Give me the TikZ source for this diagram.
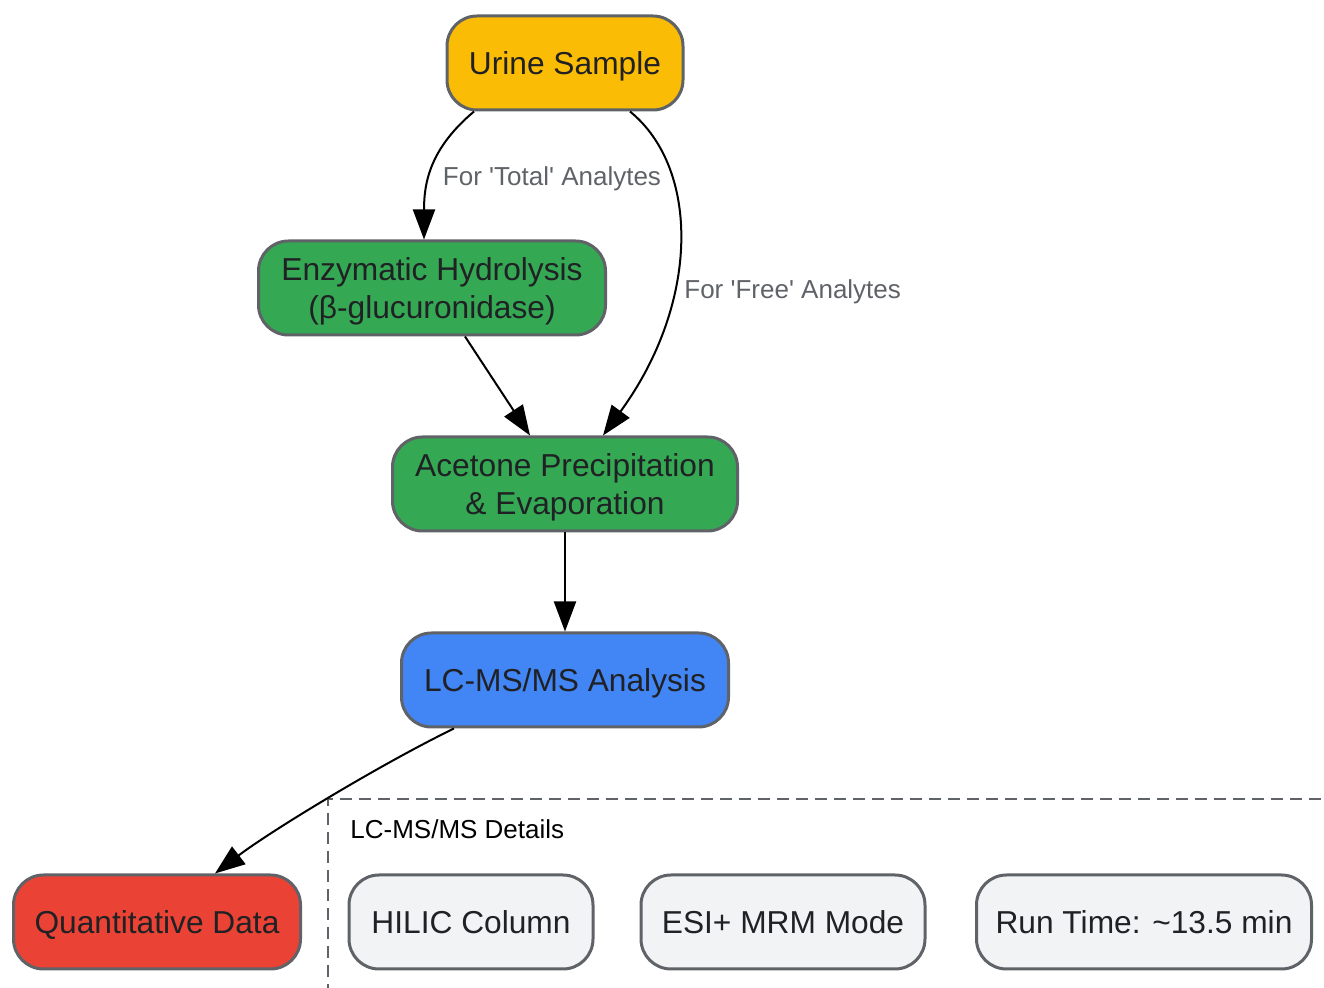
\documentclass[tikz,border=0pt]{standalone}
\usepackage{fontspec}
\setmainfont{Liberation Sans}
\usetikzlibrary{arrows.meta, positioning}

\definecolor{gyellow}{HTML}{FBBC05}
\definecolor{ggreen}{HTML}{34A853}
\definecolor{gblue}{HTML}{4285F4}
\definecolor{gred}{HTML}{EA4335}
\definecolor{glight}{HTML}{F1F3F4}
\definecolor{gborder}{HTML}{5F6368}
\definecolor{gtext}{HTML}{202124}

\newcommand{\topstrut}{\rule{0pt}{15pt}}

\begin{document}
\begin{tikzpicture}[x=0.5pt, y=-0.5pt]
\tikzset{
  stage/.style={draw=gborder, line width=1.5pt, rounded corners=15pt,
    text=gtext, align=center, inner sep=0pt, minimum height=47pt,
    font=\fontsize{15.85pt}{19.2pt}\selectfont,
    execute at begin node={\topstrut},
    execute at end node={\rule[-3.65pt]{0pt}{3.65pt}}},
  flow/.style={line width=1pt, -{Triangle[length=15pt, width=11pt]}},
  edgetext/.style={text=gborder, inner sep=0pt, font=\fontsize{13pt}{15pt}\selectfont}
}

\useasboundingbox (0,0) rectangle (1324,988);

% main steps
\node[stage, fill=gyellow, minimum width=118pt] (urine) at (565,63) {Urine Sample};
\node[stage, fill=ggreen, minimum width=173.5pt] (hydro) at (432,288) {\topstrut Enzymatic Hydrolysis\\(β-glucuronidase)};
\node[stage, fill=ggreen, minimum width=172.5pt] (acetone) at (565,484) {\topstrut Acetone Precipitation\\\& Evaporation};
\node[stage, fill=gblue, minimum width=163.5pt] (lcms) at (565,680) {LC-MS/MS Analysis};
\node[stage, fill=gred, minimum width=143.5pt] (quant) at (157,922) {Quantitative Data};

% details cluster
\begin{scope}
\clip (0,0) rectangle (1324,988);
\draw[gborder, line width=1pt, dash pattern=on 6pt off 3.5pt] (1340,799) -- (328,799) -- (328,1010);
\end{scope}
\node[anchor=west, inner sep=0pt, font=\fontsize{13pt}{15pt}\selectfont] (details) at (350,829) {LC-MS/MS Details};

\node[stage, fill=glight, minimum width=122pt] (hilic) at (471,922) {HILIC Column};
\node[stage, fill=glight, minimum width=142pt] (esi) at (783,922) {ESI+ MRM Mode};
\node[stage, fill=glight, minimum width=167.5pt] (runtime) at (1144,922) {Run Time: \textasciitilde13.5 min};

% connectors
\draw[flow] ([xshift=-45.5pt]urine.south) .. controls +(-44,37) and +(0,-57) .. ([xshift=-4pt]hydro.north);
\draw[flow] ([xshift=32.5pt]urine.south) .. controls +(70,57) and +(97,-133) .. ([xshift=19pt]acetone.north);
\draw[flow] ([xshift=16.5pt]hydro.south) -- ([xshift=-17.5pt]acetone.north);
\draw[flow] (acetone) -- (lcms);
\draw[flow] ([xshift=-55.5pt]lcms.south) .. controls +(-74,36) and +(55,-42) .. ([xshift=29pt]quant.north);

\node[edgetext] (totallbl) at (552,179) {For \textquotesingle Total\textquotesingle\ Analytes};
\node[edgetext, anchor=west] (freelbl) at (684,292) {For \textquotesingle Free\textquotesingle\ Analytes};
\end{tikzpicture}
\end{document}
